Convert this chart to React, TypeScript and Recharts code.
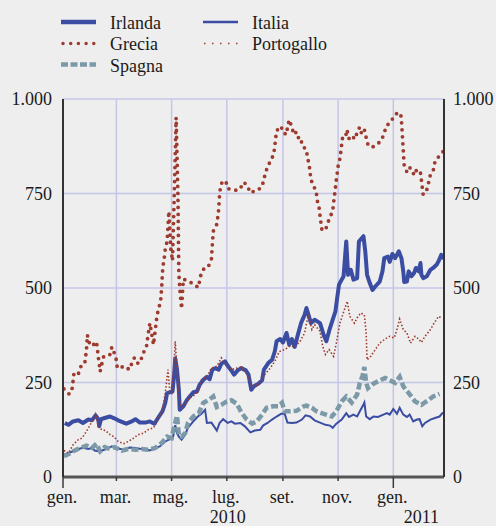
import { LineChart, Line, XAxis, YAxis, CartesianGrid } from 'recharts';

// x = days since 1 Jan 2010, y = basis points
const monthTicks = [0, 59, 120, 181, 243, 304, 365];
const monthLabels = ['gen.', 'mar.', 'mag.', 'lug.', 'set.', 'nov.', 'gen.'];
const yearTicks = [182, 396];
const yearLabels = ['2010', '2011'];
const valueTicks = [0, 250, 500, 750, 1000];

const irlanda: [number, number][] = [
  [2, 143], [6, 138], [11, 147], [17, 150], [22, 143], [28, 152], [32, 150], [36, 163], [39, 153], [40, 134],
  [42, 153], [46, 156], [52, 160], [56, 156], [61, 150], [67, 144], [70, 141], [76, 147], [80, 153], [85, 144],
  [91, 144], [96, 147], [101, 141], [105, 156], [110, 174], [113, 196], [115, 222], [118, 224], [121, 226], [123, 275],
  [124, 314], [126, 284], [128, 231], [129, 178], [133, 187], [137, 204], [140, 213], [144, 224], [148, 226], [151, 244],
  [155, 257], [159, 265], [162, 259], [165, 284], [168, 288], [172, 284], [175, 300], [179, 306], [182, 294], [186, 282],
  [189, 271], [193, 282], [197, 288], [202, 282], [205, 271], [208, 231], [211, 240], [216, 247], [220, 256], [222, 284],
  [227, 302], [231, 310], [234, 332], [236, 359], [240, 365], [243, 356], [247, 381], [250, 350], [253, 365], [256, 344],
  [259, 372], [263, 407], [267, 429], [269, 447], [274, 407], [278, 416], [284, 407], [288, 376], [291, 359], [295, 394],
  [301, 438], [303, 474], [305, 509], [310, 531], [313, 623], [315, 535], [318, 548], [321, 522], [325, 526], [327, 623],
  [332, 637], [334, 597], [336, 535], [339, 513], [342, 495], [345, 504], [350, 517], [353, 544], [355, 579], [359, 583],
  [361, 569], [364, 590], [367, 579], [371, 597], [374, 579], [376, 544], [377, 516], [380, 517], [382, 544], [385, 531],
  [388, 540], [390, 553], [393, 544], [395, 566], [396, 535], [398, 526], [402, 531], [406, 548], [409, 553], [413, 562],
  [415, 571], [418, 588], [419, 575],
];

const italia: [number, number][] = [
  [1, 59], [6, 63], [11, 68], [17, 74], [22, 77], [28, 74], [32, 77], [35, 70], [39, 68], [43, 70],
  [48, 74], [54, 81], [57, 79], [63, 74], [69, 75], [74, 78], [80, 77], [85, 75], [91, 74], [96, 70],
  [102, 77], [107, 81], [113, 94], [117, 99], [121, 101], [123, 121], [124, 137], [126, 116], [128, 107], [131, 99],
  [135, 112], [138, 130], [144, 147], [149, 160], [153, 167], [157, 178], [159, 143], [164, 144], [170, 123], [173, 143],
  [177, 153], [182, 143], [186, 147], [190, 141], [196, 143], [201, 134], [207, 118], [212, 123], [218, 125], [221, 136],
  [226, 143], [231, 152], [236, 160], [241, 167], [245, 167], [248, 144], [253, 143], [258, 144], [264, 152], [268, 163],
  [273, 160], [278, 150], [284, 144], [290, 138], [295, 136], [298, 130], [302, 141], [308, 152], [313, 169], [316, 159],
  [321, 165], [325, 160], [328, 174], [331, 187], [333, 197], [335, 160], [339, 153], [343, 160], [348, 159], [354, 165],
  [358, 169], [361, 165], [365, 180], [369, 167], [372, 183], [376, 165], [380, 159], [383, 165], [387, 147], [391, 152],
  [394, 153], [397, 134], [400, 143], [406, 152], [411, 156], [416, 160], [420, 171],
];

const grecia: [number, number][] = [
  [1, 233], [7, 219], [10, 233], [11, 251], [12, 272], [16, 268], [18, 279], [20, 294], [24, 300], [25, 318],
  [26, 339], [27, 376], [28, 359], [30, 353], [32, 346], [37, 358], [38, 339], [39, 317], [40, 300], [41, 279],
  [43, 300], [45, 319], [48, 322], [52, 324], [54, 344], [57, 326], [59, 309], [60, 288], [65, 291], [69, 293],
  [73, 284], [76, 300], [79, 316], [83, 300], [86, 308], [88, 326], [92, 341], [94, 376], [96, 407], [100, 350],
  [102, 390], [104, 429], [106, 447], [108, 469], [109, 500], [110, 544], [111, 566], [112, 582], [113, 603], [115, 623],
  [116, 663], [117, 703], [119, 606], [121, 572], [123, 750], [125, 951], [127, 747], [128, 540], [129, 500], [131, 445],
  [133, 524], [137, 519], [140, 516], [143, 512], [145, 507], [150, 502], [151, 522], [153, 540], [157, 556], [161, 559],
  [164, 577], [166, 650], [170, 669], [171, 687], [172, 707], [173, 747], [174, 766], [176, 782], [180, 782], [182, 763],
  [188, 760], [193, 758], [196, 764], [200, 780], [204, 769], [207, 752], [211, 756], [215, 758], [220, 769], [222, 788],
  [224, 807], [227, 826], [230, 838], [233, 856], [234, 876], [235, 896], [236, 916], [241, 928], [243, 912], [247, 906],
  [248, 925], [250, 945], [253, 925], [255, 906], [258, 913], [260, 898], [263, 898], [264, 877], [269, 866], [270, 847],
  [272, 826], [273, 807], [274, 786], [277, 771], [280, 751], [281, 731], [283, 712], [284, 692], [285, 673], [286, 656],
  [290, 652], [292, 669], [295, 687], [298, 704], [299, 725], [300, 745], [301, 764], [302, 786], [303, 803], [304, 822],
  [306, 842], [307, 861], [308, 881], [309, 899], [312, 899], [314, 919], [315, 899], [318, 890], [321, 898], [323, 894],
  [325, 913], [328, 926], [330, 908], [333, 919], [335, 898], [337, 879], [341, 872], [347, 879], [352, 892], [355, 909],
  [357, 928], [362, 939], [365, 951], [368, 961], [373, 963], [374, 944], [375, 904], [376, 864], [377, 824], [380, 807],
  [382, 819], [385, 816], [388, 798], [391, 814], [395, 805], [396, 786], [397, 766], [398, 747], [402, 760], [404, 779],
  [406, 800], [410, 816], [411, 835], [415, 847], [420, 861],
];

const portogallo: [number, number][] = [
  [1, 70], [6, 63], [11, 85], [17, 99], [21, 103], [26, 121], [30, 138], [33, 152], [36, 167], [39, 134],
  [43, 125], [47, 123], [52, 112], [56, 107], [61, 94], [67, 88], [72, 94], [78, 103], [83, 112], [89, 116],
  [94, 125], [100, 130], [105, 152], [110, 178], [113, 222], [116, 284], [118, 226], [120, 222], [123, 312], [124, 359],
  [126, 284], [129, 196], [131, 183], [135, 196], [140, 209], [146, 218], [150, 231], [153, 257], [159, 266], [164, 288],
  [170, 293], [175, 315], [181, 293], [186, 284], [192, 288], [197, 291], [203, 275], [209, 240], [214, 244], [219, 253],
  [223, 271], [229, 288], [234, 306], [239, 332], [245, 337], [251, 347], [256, 344], [262, 359], [267, 381], [271, 429],
  [275, 390], [278, 403], [284, 385], [287, 346], [290, 324], [294, 337], [299, 319], [302, 354], [306, 407], [311, 443],
  [314, 465], [317, 425], [322, 407], [325, 421], [329, 434], [333, 429], [335, 381], [336, 310], [340, 319], [345, 337],
  [350, 354], [356, 365], [361, 372], [366, 368], [369, 390], [372, 418], [376, 390], [380, 381], [384, 354], [389, 372],
  [393, 365], [396, 356], [400, 372], [406, 390], [409, 403], [415, 425], [418, 421],
];

const spagna: [number, number][] = [
  [1, 55], [8, 63], [13, 70], [19, 77], [26, 83], [32, 77], [37, 88], [41, 68], [46, 79], [52, 74],
  [57, 79], [65, 70], [72, 74], [80, 72], [87, 74], [94, 72], [102, 77], [109, 90], [115, 107], [120, 103],
  [123, 134], [126, 162], [128, 112], [131, 107], [135, 116], [138, 143], [144, 160], [150, 169], [155, 196], [161, 204],
  [166, 213], [170, 185], [175, 191], [181, 200], [186, 203], [192, 194], [197, 171], [203, 152], [209, 141], [214, 147],
  [220, 165], [225, 183], [232, 187], [238, 187], [242, 196], [245, 174], [251, 174], [258, 175], [266, 187], [269, 189],
  [275, 183], [280, 174], [288, 167], [297, 160], [302, 174], [308, 200], [313, 213], [319, 197], [325, 218], [328, 249],
  [331, 268], [333, 291], [335, 249], [337, 235], [343, 247], [348, 253], [356, 262], [361, 256], [367, 249], [372, 265],
  [376, 240], [382, 222], [389, 200], [396, 191], [404, 204], [409, 213], [416, 220],
];

const BLUE = '#3a4da2';
const RED = '#9f3a2e';
const GREY_BLUE = '#7c99a7';
const GRID = '#c4c6e8';
const TEXT = '#1a1a1a';
const FONT = '"Liberation Serif", "Times New Roman", serif';

const toPoints = (arr: [number, number][]) => arr.map(([d, v]) => ({ d, v }));

const formatValue = (v: number) => (v >= 1000 ? `${Math.floor(v / 1000)}.${String(v % 1000).padStart(3, '0')}` : String(v));

function MonthTick({ x, y, payload }: any) {
  const i = monthTicks.indexOf(payload.value);
  const label = monthLabels[i] ?? '';
  const long = label === 'gen.';
  return (
    <g>
      <line x1={x} y1={y} x2={x} y2={y + (long ? 11 : 4)} stroke="#3a3a3a" strokeWidth={1.5} />
      <text x={x - 1} y={y + 26} textAnchor="middle" fontSize={18} fill={TEXT} fontFamily={FONT}>
        {label}
      </text>
    </g>
  );
}

function YearTick({ x, y, payload }: any) {
  const i = yearTicks.indexOf(payload.value);
  return (
    <text x={x} y={y + 17} textAnchor="middle" fontSize={18} fill={TEXT} fontFamily={FONT}>
      {yearLabels[i] ?? ''}
    </text>
  );
}

function Legend() {
  const rowY = [22, 43.5, 64.5];
  const textY = [28.5, 50, 71.5];
  return (
    <svg width={496} height={90} style={{ position: 'absolute', left: 0, top: 0 }}>
      <line x1={61} x2={96} y1={rowY[0]} y2={rowY[0]} stroke={BLUE} strokeWidth={4.5} />
      <text x={110} y={textY[0]} fontSize={18} fill={TEXT} fontFamily={FONT}>Irlanda</text>
      <line x1={63} x2={96} y1={rowY[1]} y2={rowY[1]} stroke={RED} strokeWidth={3.5} strokeDasharray="0 7.7" strokeLinecap="round" />
      <text x={110} y={textY[1]} fontSize={18} fill={TEXT} fontFamily={FONT}>Grecia</text>
      <line x1={61} x2={96} y1={rowY[2]} y2={rowY[2]} stroke={GREY_BLUE} strokeWidth={4.5} strokeDasharray="7 2.5" />
      <text x={110} y={textY[2]} fontSize={18} fill={TEXT} fontFamily={FONT}>Spagna</text>
      <line x1={203} x2={238} y1={rowY[0]} y2={rowY[0]} stroke={BLUE} strokeWidth={2.5} />
      <text x={252} y={textY[0]} fontSize={18} fill={TEXT} fontFamily={FONT}>Italia</text>
      <line x1={204} x2={238} y1={rowY[1]} y2={rowY[1]} stroke={RED} strokeWidth={1.5} strokeDasharray="1.5 6.5" />
      <text x={252} y={textY[1]} fontSize={18} fill={TEXT} fontFamily={FONT}>Portogallo</text>
    </svg>
  );
}

export default function App() {
  const axisTick = { fontSize: 18, fill: TEXT, fontFamily: FONT };
  return (
    <div style={{ position: 'absolute', left: 0, top: 0, width: 496, height: 526, background: '#eeeeee', overflow: 'hidden' }}>
      <Legend />
      <div style={{ position: 'absolute', left: 0, top: 0 }}>
        <LineChart width={496} height={526} margin={{ top: 99, right: 0, bottom: 0, left: 0 }}>
          <CartesianGrid stroke={GRID} strokeWidth={1.5} yAxisId="left" />
          <XAxis
            dataKey="d"
            type="number"
            domain={[0, 421]}
            ticks={monthTicks}
            interval={0}
            height={29}
            tickSize={0}
            tickMargin={0}
            tick={<MonthTick />}
            axisLine={{ stroke: '#555555', strokeWidth: 3 }}
            tickLine={false}
          />
          <XAxis
            xAxisId="year"
            dataKey="d"
            type="number"
            domain={[0, 421]}
            ticks={yearTicks}
            interval={0}
            height={20}
            tickSize={0}
            tickMargin={0}
            tick={<YearTick />}
            axisLine={false}
            tickLine={false}
          />
          <YAxis
            yAxisId="left"
            domain={[0, 1000]}
            ticks={valueTicks}
            interval={0}
            width={63}
            tickSize={0}
            tickMargin={11}
            tickFormatter={formatValue}
            tick={axisTick}
            axisLine={{ stroke: '#333333', strokeWidth: 2 }}
            tickLine={false}
          />
          <YAxis
            yAxisId="right"
            orientation="right"
            domain={[0, 1000]}
            ticks={valueTicks}
            interval={0}
            width={52}
            tickSize={0}
            tickMargin={9}
            tickFormatter={formatValue}
            tick={axisTick}
            axisLine={{ stroke: '#333333', strokeWidth: 2 }}
            tickLine={false}
          />
          {/* Italia on the right axis, Portogallo on the year axis: same scales, keeps both axes populated */}
          <Line yAxisId="right" data={toPoints(italia)} dataKey="v" type="linear" stroke={BLUE} strokeWidth={2} dot={false} isAnimationActive={false} />
          <Line yAxisId="left" data={toPoints(irlanda)} dataKey="v" type="linear" stroke={BLUE} strokeWidth={4} strokeLinejoin="round" dot={false} isAnimationActive={false} />
          <Line yAxisId="left" data={toPoints(spagna)} dataKey="v" type="linear" stroke={GREY_BLUE} strokeWidth={4.5} strokeDasharray="7 3" dot={false} isAnimationActive={false} />
          <Line yAxisId="left" data={toPoints(grecia)} dataKey="v" type="linear" stroke={RED} strokeWidth={3.8} strokeDasharray="0 7" strokeLinecap="round" dot={false} isAnimationActive={false} />
          <Line yAxisId="left" xAxisId="year" data={toPoints(portogallo)} dataKey="v" type="linear" stroke={RED} strokeWidth={1.6} strokeDasharray="1.5 2" dot={false} isAnimationActive={false} />
        </LineChart>
      </div>
    </div>
  );
}
